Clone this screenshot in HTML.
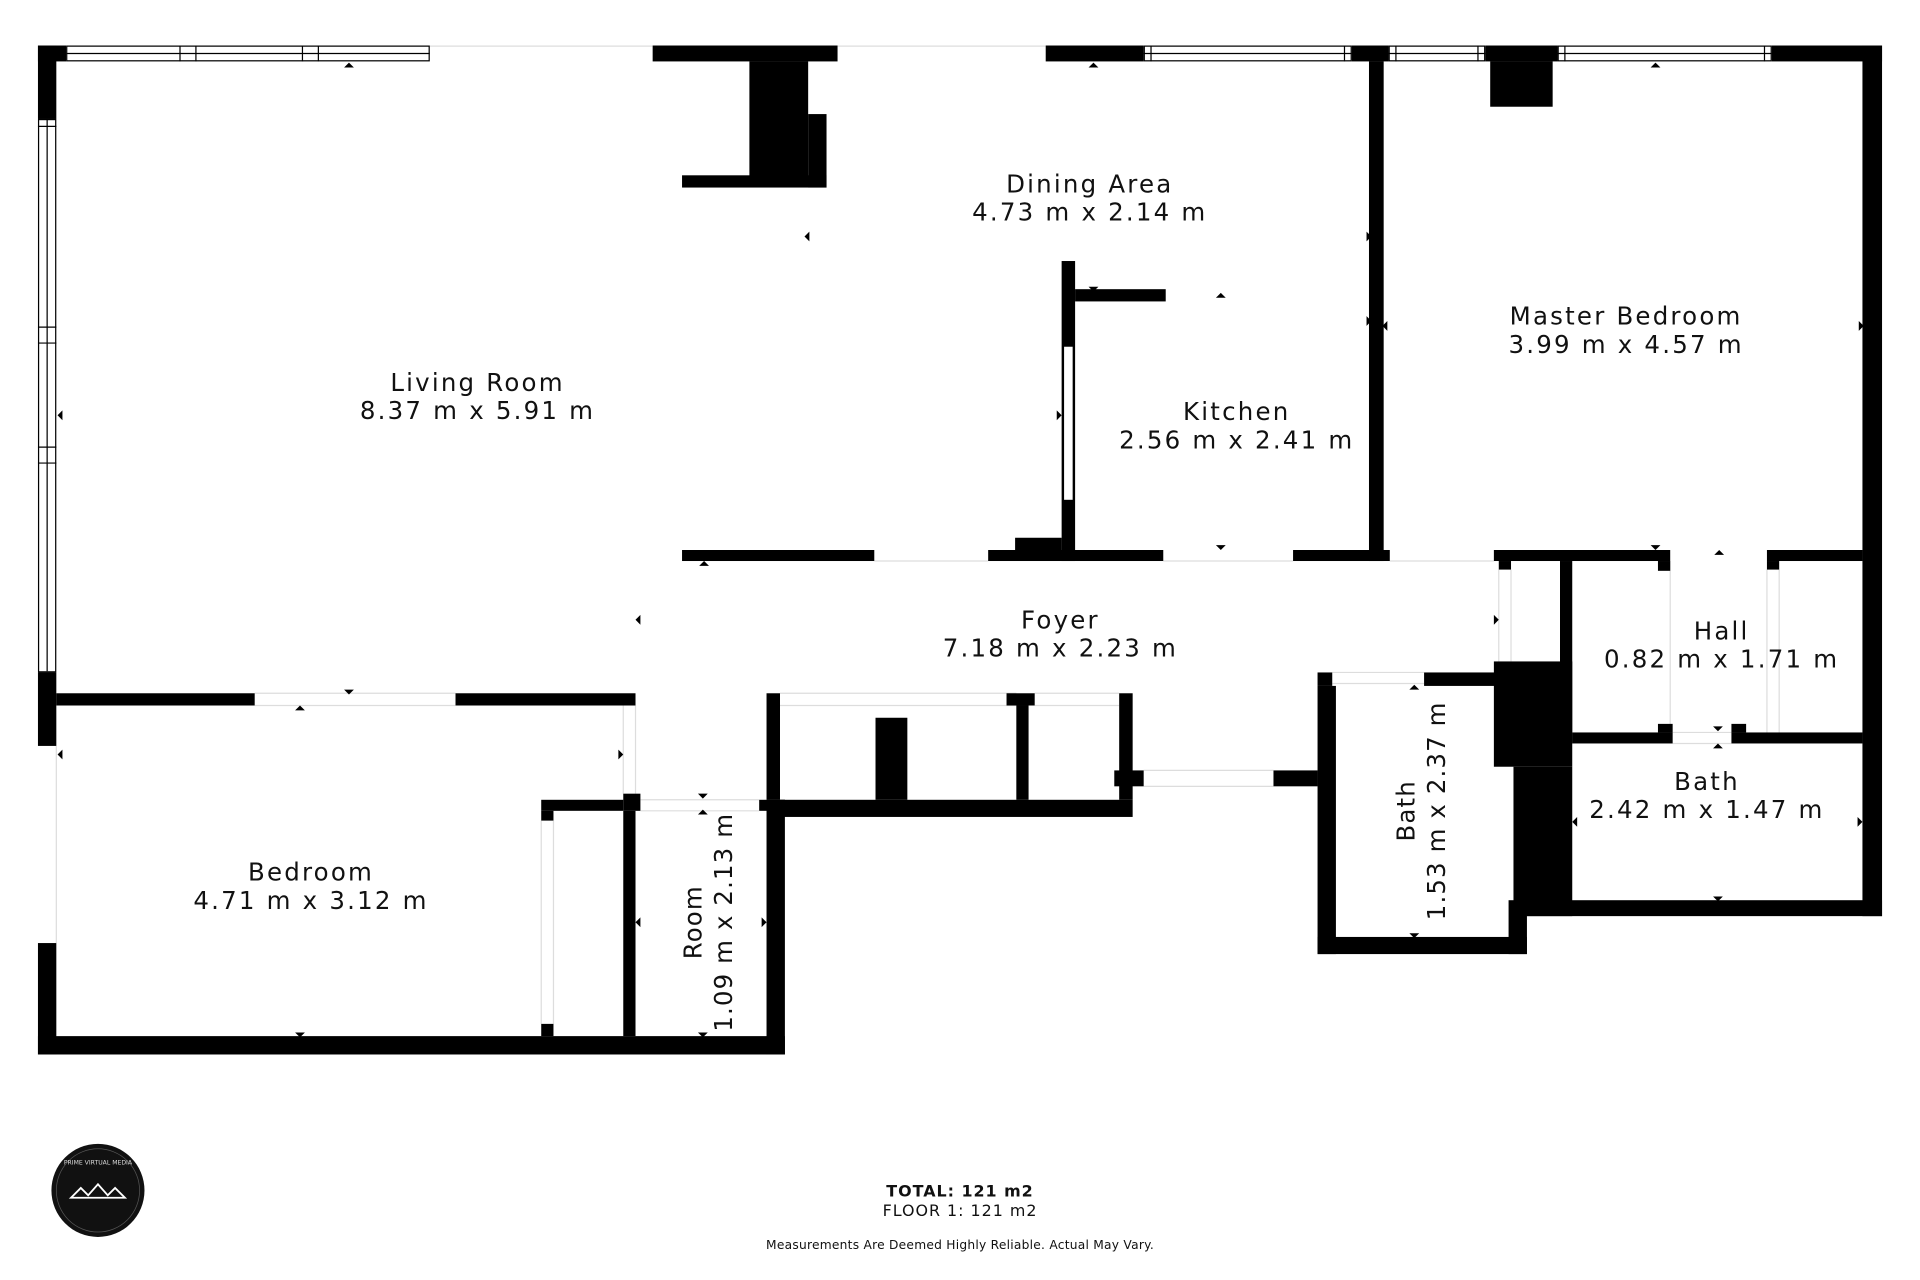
<!DOCTYPE html>
<html><head><meta charset="utf-8"><style>
html,body{margin:0;padding:0;background:#fff;width:1920px;height:1280px;overflow:hidden}
svg{display:block}
text{font-family:"DejaVu Sans","Liberation Sans",sans-serif;fill:#111}
</style></head><body>
<svg width="1920" height="1280" viewBox="0 0 1568 1045" xmlns="http://www.w3.org/2000/svg">
<rect width="1568" height="1045" fill="#fff"/>
<g fill="none" stroke="#ddd" stroke-width="1">
<line x1="351" y1="37.5" x2="533" y2="37.5"/>
<line x1="684" y1="37.5" x2="854" y2="37.5"/>
<line x1="714" y1="458" x2="807" y2="458"/>
<line x1="950" y1="458" x2="1056" y2="458"/>
<line x1="1135" y1="458" x2="1220" y2="458"/>
<line x1="208" y1="566" x2="372" y2="566"/>
<line x1="208" y1="576" x2="372" y2="576"/>
<line x1="46" y1="609" x2="46" y2="770"/>
<line x1="509" y1="576" x2="509" y2="648"/>
<line x1="519" y1="576" x2="519" y2="648"/>
<line x1="523" y1="653" x2="620" y2="653"/>
<line x1="523" y1="662" x2="620" y2="662"/>
<line x1="637" y1="566" x2="830" y2="566"/>
<line x1="637" y1="576" x2="830" y2="576"/>
<line x1="845" y1="566" x2="914" y2="566"/>
<line x1="845" y1="576" x2="914" y2="576"/>
<line x1="934" y1="629" x2="1040" y2="629"/>
<line x1="934" y1="642" x2="1040" y2="642"/>
<line x1="1088" y1="549" x2="1163" y2="549"/>
<line x1="1088" y1="558" x2="1163" y2="558"/>
<line x1="1224" y1="465" x2="1224" y2="540"/>
<line x1="1234" y1="465" x2="1234" y2="540"/>
<line x1="1364" y1="458" x2="1364" y2="598"/>
<line x1="1443" y1="465" x2="1443" y2="598"/>
<line x1="1453" y1="465" x2="1453" y2="598"/>
<line x1="1366" y1="598" x2="1414" y2="598"/>
<line x1="1366" y1="607" x2="1414" y2="607"/>
<line x1="442" y1="670" x2="442" y2="836"/>
<line x1="452" y1="670" x2="452" y2="836"/>
</g>
<g fill="#000">
<rect x="31" y="37" width="15" height="60"/>
<rect x="31" y="37" width="23" height="13"/>
<rect x="31" y="549" width="15" height="60"/>
<rect x="31" y="770" width="15" height="91"/>
<rect x="533" y="37" width="151" height="13"/>
<rect x="612" y="50" width="48" height="100"/>
<rect x="660" y="93" width="15" height="60"/>
<rect x="557" y="143" width="118" height="10"/>
<rect x="854" y="37" width="80" height="13"/>
<rect x="1104" y="37" width="30" height="13"/>
<rect x="1213" y="37" width="59" height="13"/>
<rect x="1217" y="50" width="51" height="37"/>
<rect x="1447" y="37" width="90" height="13"/>
<rect x="1521" y="37" width="16" height="711"/>
<rect x="1118" y="50" width="12" height="408"/>
<rect x="867" y="213" width="11" height="245"/>
<rect x="878" y="236" width="74" height="10"/>
<rect x="829" y="439" width="38" height="12"/>
<rect x="557" y="449" width="157" height="9"/>
<rect x="807" y="449" width="143" height="9"/>
<rect x="1056" y="449" width="79" height="9"/>
<rect x="1220" y="449" width="144" height="9"/>
<rect x="1224" y="458" width="10" height="7"/>
<rect x="1354" y="458" width="10" height="8"/>
<rect x="1443" y="449" width="78" height="9"/>
<rect x="1443" y="458" width="10" height="7"/>
<rect x="1274" y="458" width="10" height="149"/>
<rect x="46" y="566" width="162" height="10"/>
<rect x="372" y="566" width="147" height="10"/>
<rect x="509" y="648" width="14" height="14"/>
<rect x="31" y="846" width="610" height="15"/>
<rect x="442" y="653" width="67" height="9"/>
<rect x="442" y="662" width="10" height="8"/>
<rect x="442" y="836" width="10" height="10"/>
<rect x="509" y="662" width="10" height="184"/>
<rect x="620" y="653" width="21" height="9"/>
<rect x="626" y="566" width="11" height="87"/>
<rect x="626" y="653" width="15" height="208"/>
<rect x="637" y="653" width="288" height="14"/>
<rect x="715" y="586" width="26" height="67"/>
<rect x="822" y="566" width="23" height="10"/>
<rect x="830" y="576" width="10" height="77"/>
<rect x="914" y="566" width="11" height="87"/>
<rect x="910" y="629" width="24" height="13"/>
<rect x="1040" y="629" width="36" height="13"/>
<rect x="1076" y="549" width="12" height="11"/>
<rect x="1076" y="560" width="15" height="219"/>
<rect x="1163" y="549" width="61" height="11"/>
<rect x="1076" y="765" width="171" height="14"/>
<rect x="1220" y="540" width="64" height="86"/>
<rect x="1236" y="626" width="48" height="122"/>
<rect x="1232" y="735" width="15" height="44"/>
<rect x="1247" y="735" width="290" height="13"/>
<rect x="1284" y="598" width="82" height="9"/>
<rect x="1354" y="591" width="12" height="7"/>
<rect x="1414" y="598" width="107" height="9"/>
<rect x="1414" y="591" width="12" height="7"/>
</g>
<g fill="#fff" stroke="#000" stroke-width="1">
<rect x="54.5" y="37.5" width="296" height="12"/>
<rect x="31.5" y="97.5" width="14" height="451"/>
<rect x="934.5" y="37.5" width="169" height="12"/>
<rect x="1134.5" y="37.5" width="78" height="12"/>
<rect x="1272.5" y="37.5" width="174" height="12"/>
<rect x="868.5" y="282.5" width="8" height="126"/>
</g>
<g stroke="#000" stroke-width="1">
<line x1="54" y1="43.5" x2="351" y2="43.5"/>
<line x1="147" y1="37" x2="147" y2="50"/><line x1="160" y1="37" x2="160" y2="50"/>
<line x1="247" y1="37" x2="247" y2="50"/><line x1="260" y1="37" x2="260" y2="50"/>
<line x1="38.5" y1="97" x2="38.5" y2="548"/>
<line x1="31" y1="267" x2="46" y2="267"/><line x1="31" y1="280" x2="46" y2="280"/>
<line x1="31" y1="365" x2="46" y2="365"/><line x1="31" y1="378" x2="46" y2="378"/>
<line x1="31" y1="103" x2="46" y2="103"/>
<line x1="934" y1="43.5" x2="1104" y2="43.5"/><line x1="940" y1="37" x2="940" y2="50"/><line x1="1098" y1="37" x2="1098" y2="50"/>
<line x1="1134" y1="43.5" x2="1213" y2="43.5"/><line x1="1140" y1="37" x2="1140" y2="50"/><line x1="1207" y1="37" x2="1207" y2="50"/>
<line x1="1272" y1="43.5" x2="1447" y2="43.5"/><line x1="1278" y1="37" x2="1278" y2="50"/><line x1="1441" y1="37" x2="1441" y2="50"/>
</g>
<g fill="#000">
<path d="M281,55 l4,-4 l4,4z"/><path d="M889,55 l4,-4 l4,4z"/><path d="M1348,55 l4,-4 l4,4z"/>
<path d="M661,189 l-4,4 l4,4z"/><path d="M51,335 l-4,4 l4,4z"/>
<path d="M1116,189 l4,4 l-4,4z"/><path d="M1116,258 l4,4 l-4,4z"/><path d="M1133,262 l-4,4 l4,4z"/>
<path d="M1518,262 l4,4 l-4,4z"/><path d="M863,335 l4,4 l-4,4z"/>
<path d="M889,234 l4,4 l4,-4z"/><path d="M993,243 l4,-4 l4,4z"/><path d="M993,445 l4,4 l4,-4z"/>
<path d="M1348,445 l4,4 l4,-4z"/><path d="M1400,453 l4,-4 l4,4z"/>
<path d="M571,462 l4,-4 l4,4z"/><path d="M523,502 l-4,4 l4,4z"/><path d="M1220,502 l4,4 l-4,4z"/>
<path d="M281,563 l4,4 l4,-4z"/><path d="M241,580 l4,-4 l4,4z"/>
<path d="M51,612 l-4,4 l4,4z"/><path d="M505,612 l4,4 l-4,4z"/>
<path d="M570,648 l4,4 l4,-4z"/><path d="M570,665 l4,-4 l4,4z"/>
<path d="M523,749 l-4,4 l4,4z"/><path d="M622,749 l4,4 l-4,4z"/>
<path d="M241,843 l4,4 l4,-4z"/><path d="M570,843 l4,4 l4,-4z"/>
<path d="M1151,563 l4,-4 l4,4z"/><path d="M1151,762 l4,4 l4,-4z"/>
<path d="M1399,593 l4,4 l4,-4z"/><path d="M1399,611 l4,-4 l4,4z"/>
<path d="M1399,732 l4,4 l4,-4z"/><path d="M1288,667 l-4,4 l4,4z"/><path d="M1517,667 l4,4 l-4,4z"/>
</g>
<g font-size="20" text-anchor="middle" letter-spacing="1.8">
<text x="390" y="319">Living Room</text><text x="390" y="342">8.37 m x 5.91 m</text>
<text x="890" y="157">Dining Area</text><text x="890" y="180">4.73 m x 2.14 m</text>
<text x="1010" y="343">Kitchen</text><text x="1010" y="366">2.56 m x 2.41 m</text>
<text x="1328" y="265">Master Bedroom</text><text x="1328" y="288">3.99 m x 4.57 m</text>
<text x="866" y="513">Foyer</text><text x="866" y="536">7.18 m x 2.23 m</text>
<text x="1406" y="522">Hall</text><text x="1406" y="545">0.82 m x 1.71 m</text>
<text x="1394" y="645">Bath</text><text x="1394" y="668">2.42 m x 1.47 m</text>
<text x="254" y="719">Bedroom</text><text x="254" y="742">4.71 m x 3.12 m</text>
</g>
<g font-size="20" text-anchor="middle" letter-spacing="0.9">
<g transform="translate(578,753) rotate(-90)"><text x="0" y="-5">Room</text><text x="0" y="20">1.09 m x 2.13 m</text></g>
<g transform="translate(1160,662) rotate(-90)"><text x="0" y="-5">Bath</text><text x="0" y="20">1.53 m x 2.37 m</text></g>
</g>
<g text-anchor="middle" letter-spacing="0.8">
<text x="784" y="977" font-size="13" font-weight="bold">TOTAL: 121 m2</text>
<text x="784" y="993" font-size="13">FLOOR 1: 121 m2</text>
<text x="784" y="1020" font-size="10" letter-spacing="0.2">Measurements Are Deemed Highly Reliable. Actual May Vary.</text>
</g>
<circle cx="80" cy="972" r="38" fill="#111"/>
<circle cx="80" cy="972" r="34" fill="none" stroke="#555" stroke-width="0.6"/>
<path d="M58,978 l8,-8 l6,6 l8,-9 l8,9 l6,-6 l8,8z" fill="none" stroke="#fff" stroke-width="1.5"/>
<text x="80" y="951" font-size="5" text-anchor="middle" style="fill:#ddd">PRIME VIRTUAL MEDIA</text>
</svg>
</body></html>
